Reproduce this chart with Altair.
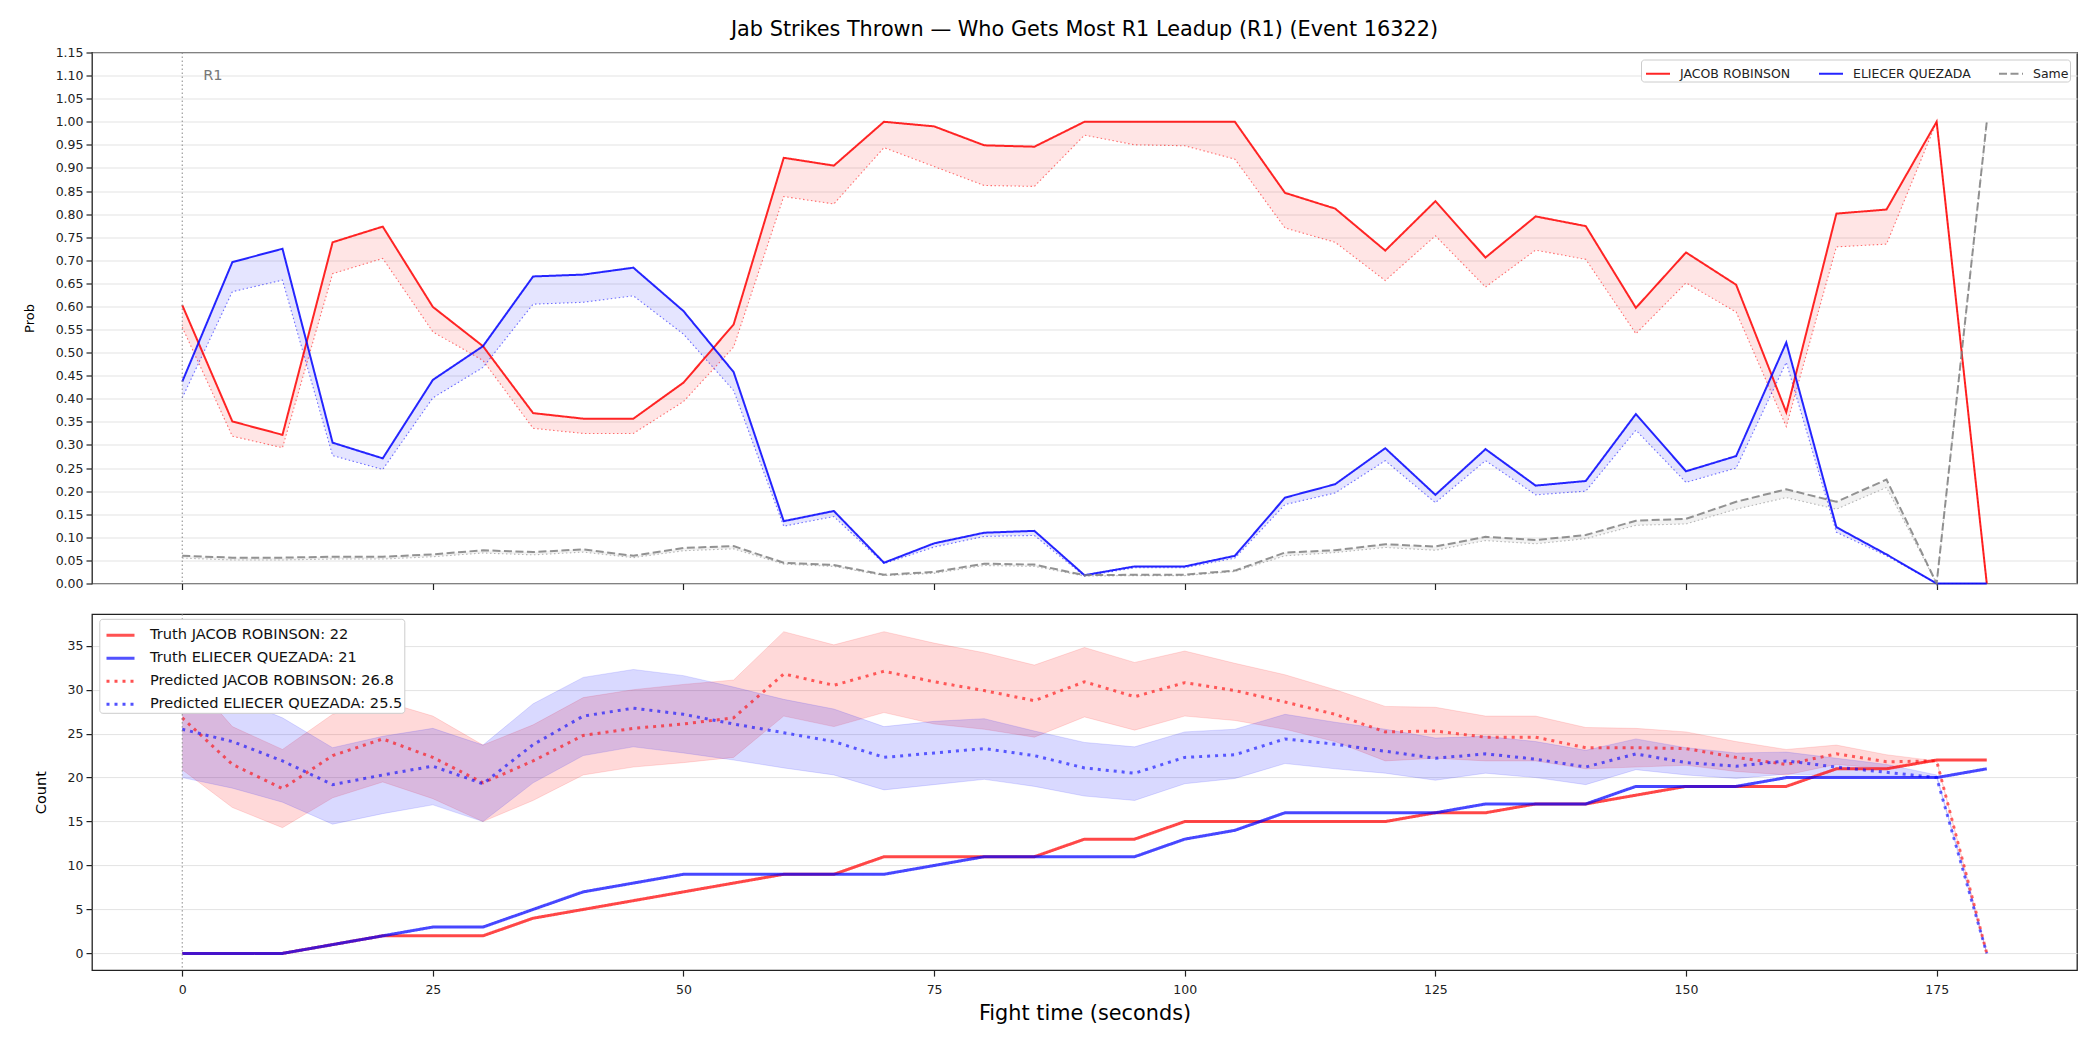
import altair as alt
import pandas as pd

# ---------------- data ----------------
times = [0, 5, 10, 15, 20, 25, 30, 35, 40, 45, 50, 55, 60, 65, 70, 75, 80, 85,
         90, 95, 100, 105, 110, 115, 120, 125, 130, 135, 140, 145, 150, 155, 160,
         165, 170, 175, 180]

jacob_prob = [0.603, 0.351, 0.322, 0.739, 0.773, 0.599, 0.514, 0.369, 0.357, 0.357, 0.435, 0.561,
              0.922, 0.905, 1.0, 0.99, 0.949, 0.946, 1.0, 1.0, 1.0, 1.0, 0.846, 0.812, 0.721,
              0.828, 0.706, 0.795, 0.774, 0.597, 0.717, 0.647, 0.371, 0.801, 0.810, 1.0, 0.0]
jacob_base = [0.555, 0.319, 0.294, 0.671, 0.704, 0.545, 0.483, 0.336, 0.325, 0.325, 0.394, 0.512,
              0.838, 0.822, 0.944, 0.903, 0.862, 0.860, 0.971, 0.950, 0.948, 0.919, 0.770, 0.739,
              0.656, 0.753, 0.642, 0.722, 0.702, 0.541, 0.651, 0.588, 0.340, 0.729, 0.735, 1.0, 0.0]
eliecer_prob = [0.437, 0.696, 0.725, 0.305, 0.271, 0.441, 0.514, 0.665, 0.669, 0.684, 0.590, 0.458,
                0.135, 0.157, 0.045, 0.087, 0.110, 0.114, 0.018, 0.037, 0.037, 0.060, 0.186, 0.215,
                0.293, 0.192, 0.291, 0.212, 0.222, 0.367, 0.243, 0.276, 0.522, 0.122, 0.063, 0.0, 0.0]
eliecer_base = [0.402, 0.632, 0.657, 0.277, 0.247, 0.402, 0.468, 0.605, 0.609, 0.623, 0.540, 0.418,
                0.124, 0.145, 0.043, 0.079, 0.102, 0.104, 0.016, 0.034, 0.034, 0.055, 0.171, 0.196,
                0.266, 0.175, 0.266, 0.192, 0.200, 0.332, 0.219, 0.250, 0.479, 0.111, 0.060, 0.0, 0.0]
same_prob = [0.060, 0.056, 0.056, 0.058, 0.058, 0.063, 0.072, 0.068, 0.074, 0.060, 0.077, 0.081,
             0.045, 0.040, 0.019, 0.025, 0.043, 0.041, 0.018, 0.019, 0.019, 0.028, 0.067, 0.072,
             0.085, 0.080, 0.101, 0.094, 0.105, 0.136, 0.140, 0.177, 0.204, 0.177, 0.225, 0.0, 1.0]
same_base = [0.055, 0.051, 0.051, 0.053, 0.053, 0.058, 0.066, 0.062, 0.068, 0.056, 0.071, 0.075,
             0.042, 0.037, 0.017, 0.022, 0.039, 0.037, 0.016, 0.017, 0.017, 0.026, 0.060, 0.067,
             0.078, 0.072, 0.093, 0.086, 0.097, 0.126, 0.129, 0.161, 0.186, 0.161, 0.208, 0.0, 1.0]

truth_jacob = [0, 0, 0, 1, 2, 2, 2, 4, 5, 6, 7, 8, 9, 9, 11, 11, 11, 11,
               13, 13, 15, 15, 15, 15, 15, 16, 16, 17, 17, 18, 19, 19, 19, 21, 21, 22, 22]
truth_eliecer = [0, 0, 0, 1, 2, 3, 3, 5, 7, 8, 9, 9, 9, 9, 9, 10, 11, 11,
                 11, 11, 13, 14, 16, 16, 16, 16, 17, 17, 17, 19, 19, 19, 20, 20, 20, 20, 21]
pred_jacob = [26.8, 21.5, 18.75, 22.5, 24.4, 22.3, 19.4, 21.9, 24.8, 25.6, 26.1, 26.8, 31.8, 30.5,
              32.1, 30.9, 29.9, 28.75, 30.9, 29.2, 30.8, 29.9, 28.6, 27.2, 25.2, 25.3, 24.6, 24.6,
              23.4, 23.4, 23.3, 22.3, 21.5, 22.7, 21.8, 21.9, 0.0]
pred_eliecer = [25.5, 24.1, 21.9, 19.2, 20.3, 21.3, 19.3, 23.75, 27.0, 27.9, 27.2, 26.1, 25.1, 24.1,
                22.3, 22.8, 23.3, 22.5, 21.1, 20.5, 22.3, 22.6, 24.4, 23.8, 23.0, 22.2, 22.7, 22.1,
                21.2, 22.7, 21.7, 21.3, 21.9, 21.2, 20.6, 20.0, 0.0]
jacob_hi = [32.3, 25.8, 23.2, 27.2, 28.7, 27.0, 23.7, 26.0, 29.1, 30.0, 30.6, 31.1, 36.6, 35.1, 36.6,
            35.3, 34.2, 32.8, 34.8, 33.1, 34.4, 33.0, 31.7, 30.0, 28.1, 28.0, 27.0, 27.0, 25.7, 25.6,
            25.2, 24.1, 23.2, 23.7, 22.6, 21.9, 0.0]
jacob_lo = [20.9, 16.6, 14.3, 17.7, 19.5, 17.6, 15.0, 17.4, 20.3, 21.2, 21.7, 22.3, 27.0, 25.8, 27.4,
            26.1, 25.5, 24.6, 26.9, 25.4, 27.0, 26.5, 25.5, 24.1, 21.9, 22.2, 21.9, 21.9, 21.0, 21.2,
            21.4, 20.7, 20.3, 21.5, 21.0, 21.9, 0.0]
eliecer_hi = [30.8, 29.1, 26.8, 23.4, 24.7, 25.6, 23.7, 28.4, 31.4, 32.3, 31.6, 30.3, 28.9, 27.8, 25.8,
              26.4, 26.7, 25.3, 24.0, 23.5, 25.2, 25.5, 27.2, 26.3, 25.5, 24.5, 24.7, 24.1, 23.1, 24.4,
              23.4, 22.8, 22.9, 22.2, 21.5, 20.3, 0.0]
eliecer_lo = [20.0, 18.8, 17.2, 14.7, 15.9, 16.9, 15.0, 19.4, 22.5, 23.5, 22.8, 22.0, 21.1, 20.3, 18.6,
              19.2, 19.8, 19.0, 17.9, 17.4, 19.3, 19.9, 21.6, 21.0, 20.5, 19.7, 20.5, 20.0, 19.2, 20.9,
              20.3, 19.9, 20.4, 20.2, 20.2, 20.0, 0.0]

top_names = ["JACOB ROBINSON", "ELIECER QUEZADA", "Same"]
fighters = ["JACOB ROBINSON", "ELIECER QUEZADA"]
bottom_names = [
    f"Truth JACOB ROBINSON: {truth_jacob[-1]}",
    f"Truth ELIECER QUEZADA: {truth_eliecer[-1]}",
    f"Predicted JACOB ROBINSON: {pred_jacob[0]}",
    f"Predicted ELIECER QUEZADA: {pred_eliecer[0]}",
]
x_ticks = [0, 25, 50, 75, 100, 125, 150, 175]
y_ticks_top = [round(i * 0.05, 2) for i in range(24)]
y_ticks_bottom = [0, 5, 10, 15, 20, 25, 30, 35]

RED, BLUE, GRAY = "#ff0000", "#0000ff", "#808080"
TOP_COLORS = [RED, BLUE, GRAY]
FONT = "DejaVu Sans"

# ---------------- tables ----------------
top_df = pd.DataFrame({
    "t": times * 3,
    "series": [n for n in top_names for _ in times],
    "prob": jacob_prob + eliecer_prob + same_prob,
    "base": jacob_base + eliecer_base + same_base,
})
band_df = pd.DataFrame({
    "t": times * 2,
    "who": [n for n in fighters for _ in times],
    "hi": jacob_hi + eliecer_hi,
    "lo": jacob_lo + eliecer_lo,
})
cnt_df = pd.DataFrame({
    "t": times * 4,
    "kind": [n for n in bottom_names for _ in times],
    "is_truth": [i < 2 for i in range(4) for _ in times],
    "count": truth_jacob + truth_eliecer + pred_jacob + pred_eliecer,
})
rule_df = pd.DataFrame({"t": [0]})
r1_df = pd.DataFrame({"t": [0], "y": [1.10], "label": ["R1"]})

# ---------------- shared encodings ----------------
x_scale = alt.Scale(domain=[-9, 189], nice=False, zero=False)
x_top = alt.X("t:Q", scale=x_scale,
              axis=alt.Axis(values=x_ticks, labels=False, title=None, grid=False))
x_bot = alt.X("t:Q", scale=x_scale,
              axis=alt.Axis(values=x_ticks, title="Fight time (seconds)", grid=False,
                            titleFontSize=20.8, labelPadding=7, titlePadding=8))

yt_scale = alt.Scale(domain=[0, 1.15], nice=False, zero=False)
yt_axis = alt.Axis(values=y_ticks_top, format=".2f", title="Prob", titleFontSize=13,
                   titlePadding=19, grid=True)
yb_scale = alt.Scale(domain=[-1.9, 38.6], nice=False, zero=False)
yb_axis = alt.Axis(values=y_ticks_bottom, format="d", title="Count", titleFontSize=14.6,
                   titlePadding=19, grid=True)


def yt(field):
    return alt.Y(f"{field}:Q", scale=yt_scale, axis=yt_axis)


def yb(field):
    return alt.Y(f"{field}:Q", scale=yb_scale, axis=yb_axis)


# ---------------- top panel ----------------
base_top = alt.Chart(top_df)
bands_top, dots_top = [], []
for name, col in zip(top_names, TOP_COLORS):
    sub = base_top.transform_filter(alt.FieldEqualPredicate(field="series", equal=name))
    bands_top.append(sub.mark_area(opacity=0.1, color=col).encode(x=x_top, y=yt("prob"), y2="base:Q"))
    dots_top.append(sub.mark_line(strokeWidth=1.1, opacity=0.55, strokeDash=[1.5, 2.5], color=col).encode(
        x=x_top, y=yt("base")))

top_legend = alt.Legend(title=None, orient="top-right", offset=7, direction="horizontal",
                        symbolType="stroke", symbolSize=576, symbolStrokeWidth=2, symbolOpacity=0.85,
                        labelFontSize=12.5, labelFont=FONT, labelColor="#222", labelOffset=9,
                        symbolOffset=3, columnPadding=24, padding=1, fillColor="#ffffff",
                        strokeColor="#cccccc", cornerRadius=3, labelLimit=400)
line_top = base_top.mark_line(strokeWidth=2, opacity=0.85).encode(
    x=x_top, y=yt("prob"),
    color=alt.Color("series:N", scale=alt.Scale(domain=top_names, range=TOP_COLORS),
                    legend=top_legend, sort=top_names),
    strokeDash=alt.StrokeDash("series:N", scale=alt.Scale(domain=top_names,
                                                          range=[[1, 0], [1, 0], [8, 3.5]]),
                              legend=top_legend, sort=top_names),
)
rule_top = alt.Chart(rule_df).mark_rule(color="#888888", strokeWidth=1, strokeDash=[1.5, 2.5]).encode(x=x_top)
r1_text = alt.Chart(r1_df).mark_text(align="left", baseline="middle", dx=21, fontSize=14.6,
                                     font=FONT, color="#777777").encode(
    x=x_top, y=yt("y"), text="label:N")

top = alt.layer(*bands_top, *dots_top, line_top, rule_top, r1_text).properties(width=1985, height=531)

# ---------------- bottom panel ----------------
base_band = alt.Chart(band_df)
bands_bot = []
for name, col in zip(fighters, [RED, BLUE]):
    sub = base_band.transform_filter(alt.FieldEqualPredicate(field="who", equal=name))
    bands_bot.append(sub.mark_area(opacity=0.15, color=col).encode(x=x_bot, y=yb("hi"), y2="lo:Q"))
    bands_bot.append(sub.mark_line(opacity=0.12, strokeWidth=1, color=col).encode(x=x_bot, y=yb("hi")))
    bands_bot.append(sub.mark_line(opacity=0.12, strokeWidth=1, color=col).encode(x=x_bot, y=yb("lo")))

bot_legend = alt.Legend(title=None, orient="none", legendX=7.3, legendY=4.7, direction="vertical",
                        symbolType="stroke", symbolSize=784, symbolStrokeWidth=3, symbolOpacity=0.68,
                        labelFontSize=14.6, labelFont=FONT, labelColor="#111", labelOffset=14,
                        symbolOffset=4.7, rowPadding=-5.8, padding=1, fillColor="#ffffff",
                        strokeColor="#cccccc", cornerRadius=3, labelLimit=500)
bot_color = alt.Color("kind:N", scale=alt.Scale(domain=bottom_names, range=[RED, BLUE, RED, BLUE]),
                      legend=bot_legend, sort=bottom_names)
bot_dash = alt.StrokeDash("kind:N", scale=alt.Scale(domain=bottom_names,
                                                    range=[[1, 0], [1, 0], [3, 5], [3, 5]]),
                          legend=bot_legend, sort=bottom_names)
base_cnt = alt.Chart(cnt_df)
truth_lines = base_cnt.transform_filter(alt.FieldEqualPredicate(field="is_truth", equal=True)).mark_line(
    strokeWidth=3, opacity=0.72).encode(x=x_bot, y=yb("count"), color=bot_color, strokeDash=bot_dash)
pred_lines = base_cnt.transform_filter(alt.FieldEqualPredicate(field="is_truth", equal=False)).mark_line(
    strokeWidth=3, opacity=0.6).encode(x=x_bot, y=yb("count"), color=bot_color, strokeDash=bot_dash)
rule_bot = alt.Chart(rule_df).mark_rule(color="#888888", strokeWidth=1, strokeDash=[1.5, 2.5]).encode(x=x_bot)

bottom = alt.layer(*bands_bot, truth_lines, pred_lines, rule_bot).properties(width=1985, height=356)

chart = alt.vconcat(top, bottom, spacing=30.6, bounds="flush").resolve_scale(
    color="independent", strokeDash="independent"
).resolve_legend(
    color="independent", strokeDash="independent"
).properties(
    title=alt.TitleParams("Jab Strikes Thrown — Who Gets Most R1 Leadup (R1) (Event 16322)",
                          fontSize=20.8, font=FONT, fontWeight="normal", anchor="middle",
                          frame="group", offset=5, color="#000000"),
    padding={"left": 22, "top": 18.5, "right": 10, "bottom": 10},
).configure(font=FONT).configure_view(
    stroke="#222222", strokeWidth=1.3
).configure_axis(
    labelFont=FONT, labelFontSize=12.5, labelColor="#222222", tickColor="#222222",
    tickSize=6, tickWidth=1.2, domain=False, titleFont=FONT, titleFontWeight="normal",
    titleColor="#000000", gridColor="#e3e3e3", gridWidth=1, labelPadding=3
)

chart.save("out.html", embed_options={"renderer": "svg", "actions": False})
